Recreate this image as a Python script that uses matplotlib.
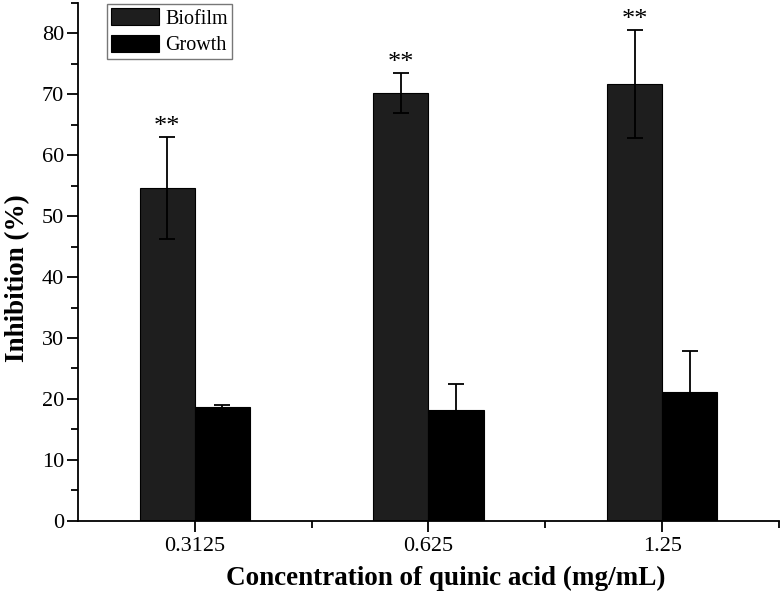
import matplotlib
matplotlib.use("Agg")
import matplotlib.pyplot as plt
import numpy as np
from matplotlib.ticker import MultipleLocator, FixedLocator

categories = ["0.3125", "0.625", "1.25"]
biofilm = [54.6, 70.2, 71.7]
biofilm_err = [8.4, 3.3, 8.9]
growth = [18.7, 18.1, 21.2]
growth_err = [0.3, 4.4, 6.7]
stars = ["**", "**", "**"]

plt.rcParams['font.family'] = ['Liberation Serif', 'DejaVu Serif']

fig = plt.figure(figsize=(7.82, 6.0), dpi=100)
ax = fig.add_axes([0.0997, 0.1322, 0.8965, 0.8628])

x = np.arange(len(categories))
w = 0.236
ax.bar(x - w/2, biofilm, w, color='#1e1e1e', edgecolor='black', linewidth=0.8, label='Biofilm',
       yerr=biofilm_err, error_kw=dict(ecolor='black', elinewidth=1.3, capsize=5.5, capthick=1.3))
ax.bar(x + w/2, growth, w, color='black', edgecolor='black', linewidth=0.8, label='Growth',
       yerr=growth_err, error_kw=dict(ecolor='black', elinewidth=1.3, capsize=5.5, capthick=1.3))

for xi, v, e, s in zip(x, biofilm, biofilm_err, stars):
    ax.text(xi - w/2, v + e - 0.2, s, ha='center', va='bottom', fontsize=19)

ax.set_xlim(-0.5, 2.5)
ax.set_ylim(0, 85)
ax.set_xticks(x)
ax.set_xticklabels(categories)
ax.xaxis.set_minor_locator(FixedLocator([0.5, 1.5, 2.5]))
ax.yaxis.set_major_locator(FixedLocator(np.arange(0, 81, 10)))
ax.yaxis.set_minor_locator(MultipleLocator(5))

for sp in ['top', 'right']:
    ax.spines[sp].set_visible(False)
for sp in ['left', 'bottom']:
    ax.spines[sp].set_linewidth(1.3)

ax.tick_params(axis='both', which='major', direction='out', length=8, width=1.3, labelsize=16)
ax.tick_params(axis='y', which='major', pad=2)
ax.tick_params(axis='both', which='minor', direction='out', length=5, width=1.3)

ax.set_xlabel('Concentration of quinic acid (mg/mL)', fontsize=19.5, fontweight='bold')
ax.set_ylabel('Inhibition (%)', fontsize=19.5, fontweight='bold')
ax.xaxis.set_label_coords(0.525, -0.088)
ax.yaxis.set_label_coords(-0.068, 0.468)

leg = ax.legend(loc='upper left', bbox_to_anchor=(0.041, 0.998), fontsize=14.5, frameon=True, fancybox=False,
                edgecolor='#555555', handlelength=2.4, handleheight=0.95, borderpad=0.2,
                labelspacing=0.3, handletextpad=0.3, borderaxespad=0.0)
leg.get_frame().set_linewidth(1.0)

fig.savefig('out.png', dpi=100)
